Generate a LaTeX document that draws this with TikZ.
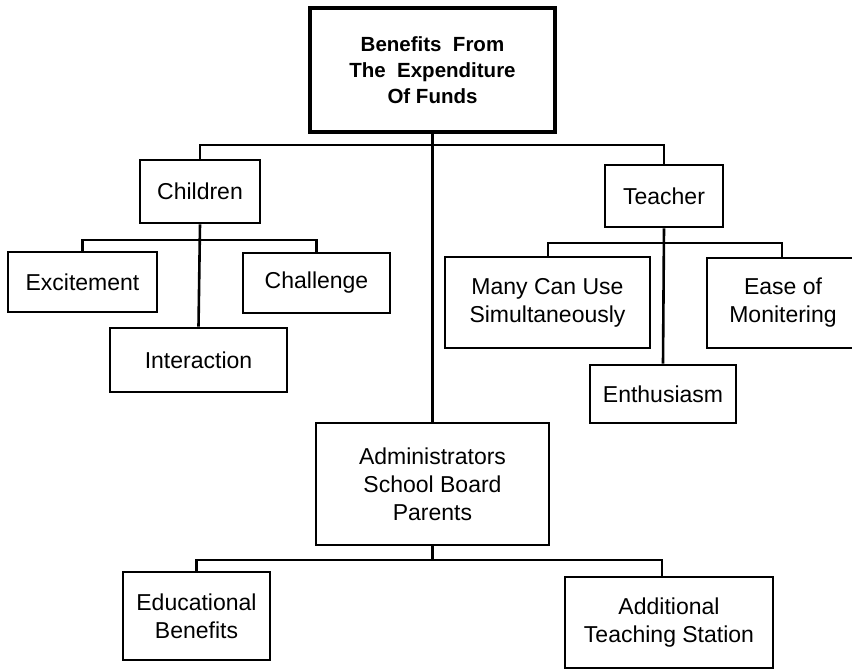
\documentclass[tikz,border=0pt]{standalone}
\usepackage{fontspec}
\setmainfont{Liberation Sans}
\begin{document}
\begin{tikzpicture}[x=1pt,y=-1pt,
  box/.style={draw,line width=2.6pt,align=center,inner sep=0pt,font=\fontsize{23}{28}\selectfont},
  topbox/.style={draw,line width=3.8pt,align=center,inner sep=0pt,font=\bfseries\fontsize{20.5}{26}\selectfont},
  link/.style={line width=2.6pt}]
\useasboundingbox (0,0) rectangle (852,670);
\node[topbox,minimum width=245pt,minimum height=124pt] (top) at (432.5,70) {Benefits~~From\\The~~Expenditure\\Of Funds};
\node[box,minimum width=120pt,minimum height=63pt] (child) at (200,191.5) {Children};
\node[box,minimum width=118pt,minimum height=62pt] (teach) at (664,196) {Teacher};
\node[box,minimum width=149pt,minimum height=60pt] (excite) at (82.5,282) {Excitement};
\node[box,minimum width=147pt,minimum height=60pt] (chall) at (316.5,283) {Challenge};
\node[box,minimum width=177pt,minimum height=64pt] (inter) at (198.5,360) {Interaction};
\node[box,minimum width=205pt,minimum height=91pt] (many) at (547.5,302.5) {Many Can Use\\Simultaneously};
\node[box,minimum width=152pt,minimum height=90pt] (ease) at (783,303) {Ease of\\Monitering};
\node[box,minimum width=146pt,minimum height=58pt] (enth) at (663,394) {Enthusiasm};
\node[box,minimum width=233pt,minimum height=122pt] (admin) at (432.5,484) {Administrators\\School Board\\Parents};
\node[box,minimum width=147pt,minimum height=88pt] (edu) at (196.5,616) {Educational\\Benefits};
\node[box,minimum width=208pt,minimum height=91pt] (add) at (669,622.5) {Additional\\Teaching Station};
% main trunk
\draw[link] (top.south) -- (admin.north);
\coordinate (hl) at (200,145);
\coordinate (hr) at (665,145);
\draw[link] (child.north) -- (child.north |- hl) -- (teach.north |- hr) -- (teach.north);
% children
\draw[link] (child.south) -- (inter.north);
\coordinate (cy) at (0,240);
\draw[link] (excite.north) -- (excite.north |- cy) -- (chall.north |- cy) -- (chall.north);
% teacher
\draw[link] (teach.south) -- (enth.north);
\coordinate (tl) at (548,243);
\coordinate (tr) at (782,243);
\draw[link] (many.north -| tl) -- (tl) -- (tr) -- (ease.north -| tr);
% admin
\coordinate (ay) at (0,560);
\coordinate (ar) at (662,560);
\draw[link] (admin.south) -- (admin.south |- ay);
\draw[link] (edu.north) -- (edu.north |- ay) -- (ar) -- (add.north -| ar);
\end{tikzpicture}
\end{document}
